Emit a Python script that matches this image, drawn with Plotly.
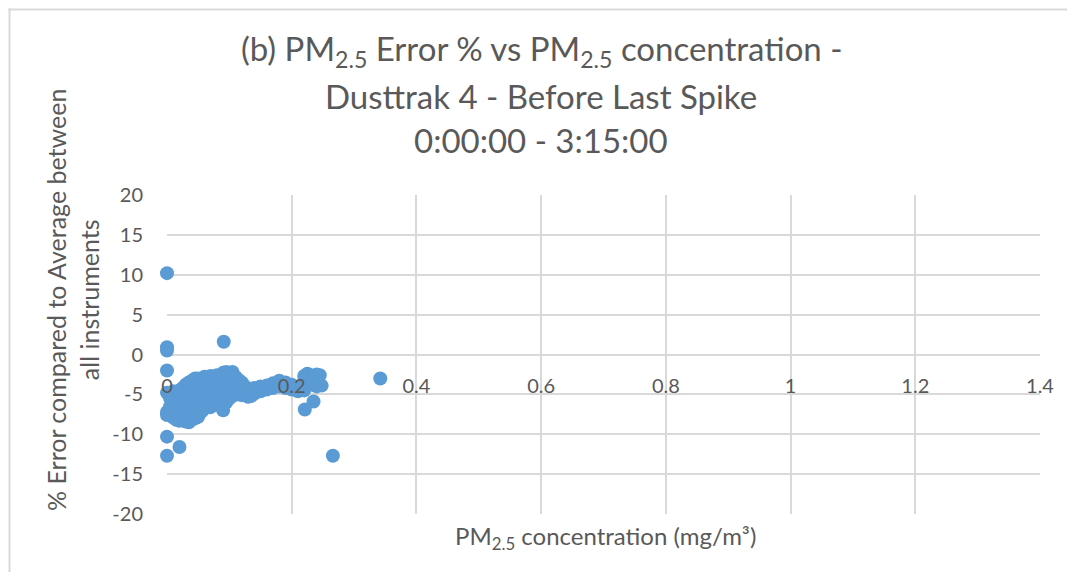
import plotly.graph_objects as go

# ---- data ----
x_conc = [
    0.0, 0.0, 0.0, 0.0, 0.0, 0.0, 0.0, 0.0, 0.0, 0.02,
    0.005, 0.005,
    0.01, 0.01, 0.01, 0.01,
    0.015, 0.015, 0.015, 0.015,
    0.02, 0.02, 0.02, 0.02, 0.02,
    0.025, 0.025, 0.025, 0.025, 0.025,
    0.03, 0.03, 0.03, 0.03, 0.03, 0.03,
    0.035, 0.035, 0.035, 0.035, 0.035, 0.035,
    0.04, 0.04, 0.04, 0.04, 0.04, 0.04,
    0.045, 0.045, 0.045, 0.045, 0.045, 0.045,
    0.05, 0.05, 0.05, 0.05, 0.05, 0.05,
    0.055, 0.055, 0.055, 0.055, 0.055,
    0.06, 0.06, 0.06, 0.06, 0.06,
    0.065, 0.065, 0.065, 0.065,
    0.07, 0.07, 0.07, 0.07, 0.07,
    0.075, 0.075, 0.075, 0.075,
    0.08, 0.08, 0.08, 0.08, 0.08,
    0.085, 0.085, 0.085, 0.085,
    0.09, 0.09, 0.09, 0.09, 0.09,
    0.095, 0.095, 0.095, 0.095, 0.095,
    0.1, 0.1, 0.1, 0.1,
    0.105, 0.105, 0.105, 0.105,
    0.11, 0.11, 0.11,
    0.115, 0.115, 0.115,
    0.12, 0.12, 0.12,
    0.125, 0.125,
    0.13, 0.13, 0.13,
    0.135, 0.135,
    0.14, 0.14,
    0.15, 0.15,
    0.16, 0.16,
    0.17, 0.17,
    0.18, 0.18,
    0.19, 0.19,
    0.2, 0.2,
    0.21, 0.21,
    0.215,
    0.22, 0.22, 0.22, 0.221,
    0.225, 0.225, 0.235,
    0.23, 0.23,
    0.24, 0.24, 0.24,
    0.245, 0.248,
    0.266, 0.342,
    0.091,
]
y_err = [
    10.2, 0.9, 0.5, -2.0, -4.8, -7.2, -7.6, -10.3, -12.7, -11.6,
    -5.5, -6.5,
    -4.6, -5.8, -7.0, -7.9,
    -5.2, -6.3, -7.4, -8.2,
    -4.5, -5.5, -6.5, -7.5, -8.3,
    -4.2, -5.0, -6.0, -7.0, -8.0,
    -3.8, -4.8, -5.8, -6.8, -7.8, -8.4,
    -3.5, -4.5, -5.5, -6.5, -7.5, -8.5,
    -3.3, -4.2, -5.2, -6.2, -7.2, -8.2,
    -3.0, -4.0, -5.0, -6.0, -7.0, -8.0,
    -3.0, -3.9, -4.9, -5.9, -6.9, -7.8,
    -3.2, -4.3, -5.4, -6.5, -7.2,
    -2.8, -3.7, -4.7, -5.7, -6.8,
    -3.3, -4.4, -5.4, -6.4,
    -2.7, -3.6, -4.6, -5.6, -6.6,
    -3.1, -4.1, -5.1, -6.2,
    -2.6, -3.5, -4.5, -5.5, -6.3,
    -3.0, -4.0, -5.0, -5.9,
    -2.3, -3.3, -4.3, -5.3, -7.0,
    -2.2, -3.0, -4.0, -5.0, -6.0,
    -2.5, -3.5, -4.5, -5.5,
    -2.2, -3.2, -4.2, -5.2,
    -2.8, -3.8, -4.8,
    -3.2, -4.2, -5.0,
    -3.5, -4.4, -5.1,
    -4.0, -4.8,
    -4.3, -5.0, -5.3,
    -4.5, -5.2,
    -4.2, -4.9,
    -4.0, -4.6,
    -3.9, -4.4,
    -3.6, -4.2,
    -3.3, -4.0,
    -3.5, -4.2,
    -3.8, -4.4,
    -4.1, -4.6,
    -4.4,
    -2.7, -3.5, -4.5, -6.9,
    -2.4, -3.2, -5.9,
    -2.6, -3.8,
    -2.5, -3.6, -4.0,
    -2.6, -3.9,
    -12.7, -3.0,
    1.6,
]

x_tickvals = [0, 0.2, 0.4, 0.6, 0.8, 1.0, 1.2, 1.4]
x_ticktext = ["0", "0.2", "0.4", "0.6", "0.8", "1", "1.2", "1.4"]
y_tickvals = [-20, -15, -10, -5, 0, 5, 10, 15, 20]
y_ticktext = ["-20", "-15", "-10", "-5", "0", "5", "10", "15", "20"]

title_lines = [
    "(b) PM<sub>2.5</sub> Error % vs PM<sub>2.5</sub> concentration -",
    "Dusttrak 4 - Before Last Spike",
    "0:00:00 - 3:15:00",
]
x_title = "PM<sub>2.5</sub> concentration (mg/m³)"
y_title = "% Error compared to Average between<br>all instruments"

# ---- style ----
FONT = "Lato"
TXT = "#595959"
GRID = "#d9d9d9"
MARK = "#5b9bd5"

OFF = 8  # page body margin offset of the rendered figure
W, H = 1075 - 2 * OFF, 580 - 2 * OFF
# target plot area in screen pixels: x 167..1040, y 195..514
L, T = 167 - OFF, 195 - OFF
R = W - (1040 - OFF)
B = H - (514 - OFF)
pw, ph = W - L - R, H - T - B


def px_x(p):
    return (p - OFF - L) / pw


def px_y(p):
    return (H - B - (p - OFF)) / ph


fig = go.Figure()
fig.add_trace(go.Scatter(
    x=x_conc, y=y_err, mode="markers",
    marker=dict(color=MARK, size=14, line=dict(width=0)),
    cliponaxis=False, showlegend=False, hoverinfo="x+y",
))

fig.update_layout(
    width=W, height=H,
    margin=dict(l=L, r=R, t=T, b=B, autoexpand=False),
    paper_bgcolor="white", plot_bgcolor="white",
    font=dict(family=FONT, color=TXT, size=20),
    xaxis=dict(
        range=[0, 1.4], tickvals=x_tickvals, ticktext=x_ticktext,
        showgrid=True, gridcolor=GRID, gridwidth=1.5,
        zeroline=False, showline=False, ticks="",
        anchor="free", position=0.5, side="bottom",
        ticklabelstandoff=17,
        tickfont=dict(size=20, color=TXT, family=FONT),
    ),
    yaxis=dict(
        range=[-20, 20], tickvals=y_tickvals, ticktext=y_ticktext,
        showgrid=True, gridcolor=GRID, gridwidth=1.5,
        zeroline=False, showline=False, ticks="",
        ticklabelstandoff=23,
        tickfont=dict(size=20, color=TXT, family=FONT),
    ),
)

title_y_px = [50, 96, 140]
for line, yp in zip(title_lines, title_y_px):
    fig.add_annotation(
        text=line, xref="paper", yref="paper",
        x=px_x(541), y=px_y(yp), xanchor="center", yanchor="middle",
        showarrow=False, font=dict(family=FONT, size=33, color=TXT),
    )

fig.add_annotation(
    text=x_title, xref="paper", yref="paper",
    x=px_x(605), y=px_y(537), xanchor="center", yanchor="middle",
    showarrow=False, font=dict(family=FONT, size=24, color=TXT),
)
fig.add_annotation(
    text=y_title, xref="paper", yref="paper", textangle=-90,
    x=px_x(72), y=px_y(300), xanchor="center", yanchor="middle",
    showarrow=False, font=dict(family=FONT, size=25, color=TXT),
)

# chart-area frame: only top and left edges are visible in the reference
edge_x, edge_y = OFF + 1.5, OFF + 1.5
fig.add_shape(type="line", xref="paper", yref="paper",
              x0=px_x(edge_x - 1), x1=px_x(1075), y0=px_y(edge_y), y1=px_y(edge_y),
              line=dict(color=GRID, width=2), layer="below")
fig.add_shape(type="line", xref="paper", yref="paper",
              x0=px_x(edge_x), x1=px_x(edge_x), y0=px_y(edge_y - 1), y1=px_y(580),
              line=dict(color=GRID, width=2), layer="below")

fig.write_html("out.html")
